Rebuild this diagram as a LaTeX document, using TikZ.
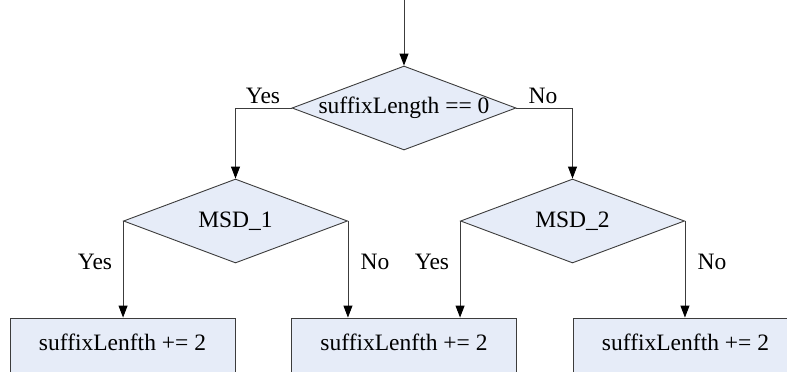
\documentclass[tikz,border=0pt]{standalone}
\usepackage{fontspec}
\setmainfont{Liberation Serif}
\usetikzlibrary{shapes.geometric,arrows.meta}
\definecolor{boxfill}{RGB}{230,236,248}
\definecolor{edge}{RGB}{60,60,60}
\begin{document}
\begin{tikzpicture}[x=1pt,y=-1pt,
  every node/.style={font=\fontsize{23.5}{26}\selectfont},
  decision/.style={shape=diamond, draw=edge, fill=boxfill, line width=0.9pt,
    inner sep=0pt, minimum width=224pt, minimum height=84pt},
  action/.style={shape=rectangle, draw=edge, fill=boxfill, line width=0.9pt,
    inner sep=0pt, minimum width=225pt, minimum height=60pt},
  flow/.style={draw=edge, line width=0.9pt,
    -{Triangle[length=12pt,width=9pt,color=black]}},
  tag/.style={inner sep=0pt}]
\useasboundingbox (0,0) rectangle (787,372);
\clip (0,0) rectangle (787,372);

% decisions
\node[decision] (d0) at (404,108) {\makebox[0pt]{suffixLength == 0}};
\node[decision] (d1) at (235.5,221) {\makebox[0pt]{MSD\_1}};
\node[decision] (d2) at (572.5,221) {\makebox[0pt]{MSD\_2}};

% actions
\node[action] (b1) at (122.5,348) {};
\node[action] (b2) at (404,348) {};
\node[action] (b3) at (685.5,348) {};
\node at (122.5,342) {suffixLenfth += 2};
\node at (404,342) {suffixLenfth += 2};
\node at (685.5,342) {suffixLenfth += 2};

% entry
\coordinate (in) at (404,-2);
\draw[flow] (in) -- (d0.north);

% branches
\draw[flow] (d0.west) -| (d1.north);
\draw[flow] (d0.east) -| (d2.north);
\draw[flow] (d1.west) -- (d1.west |- b1.north);
\draw[flow] (d1.east) -- (d1.east |- b2.north);
\draw[flow] (d2.west) -- (d2.west |- b2.north);
\draw[flow] (d2.east) -- (d2.east |- b3.north);

% labels
\node[tag] at (263,96) {Yes};
\node[tag] at (543,96) {No};
\node[tag] at (95,262) {Yes};
\node[tag] at (375,262) {No};
\node[tag] at (432,262) {Yes};
\node[tag] at (712,262) {No};
\end{tikzpicture}
\end{document}
